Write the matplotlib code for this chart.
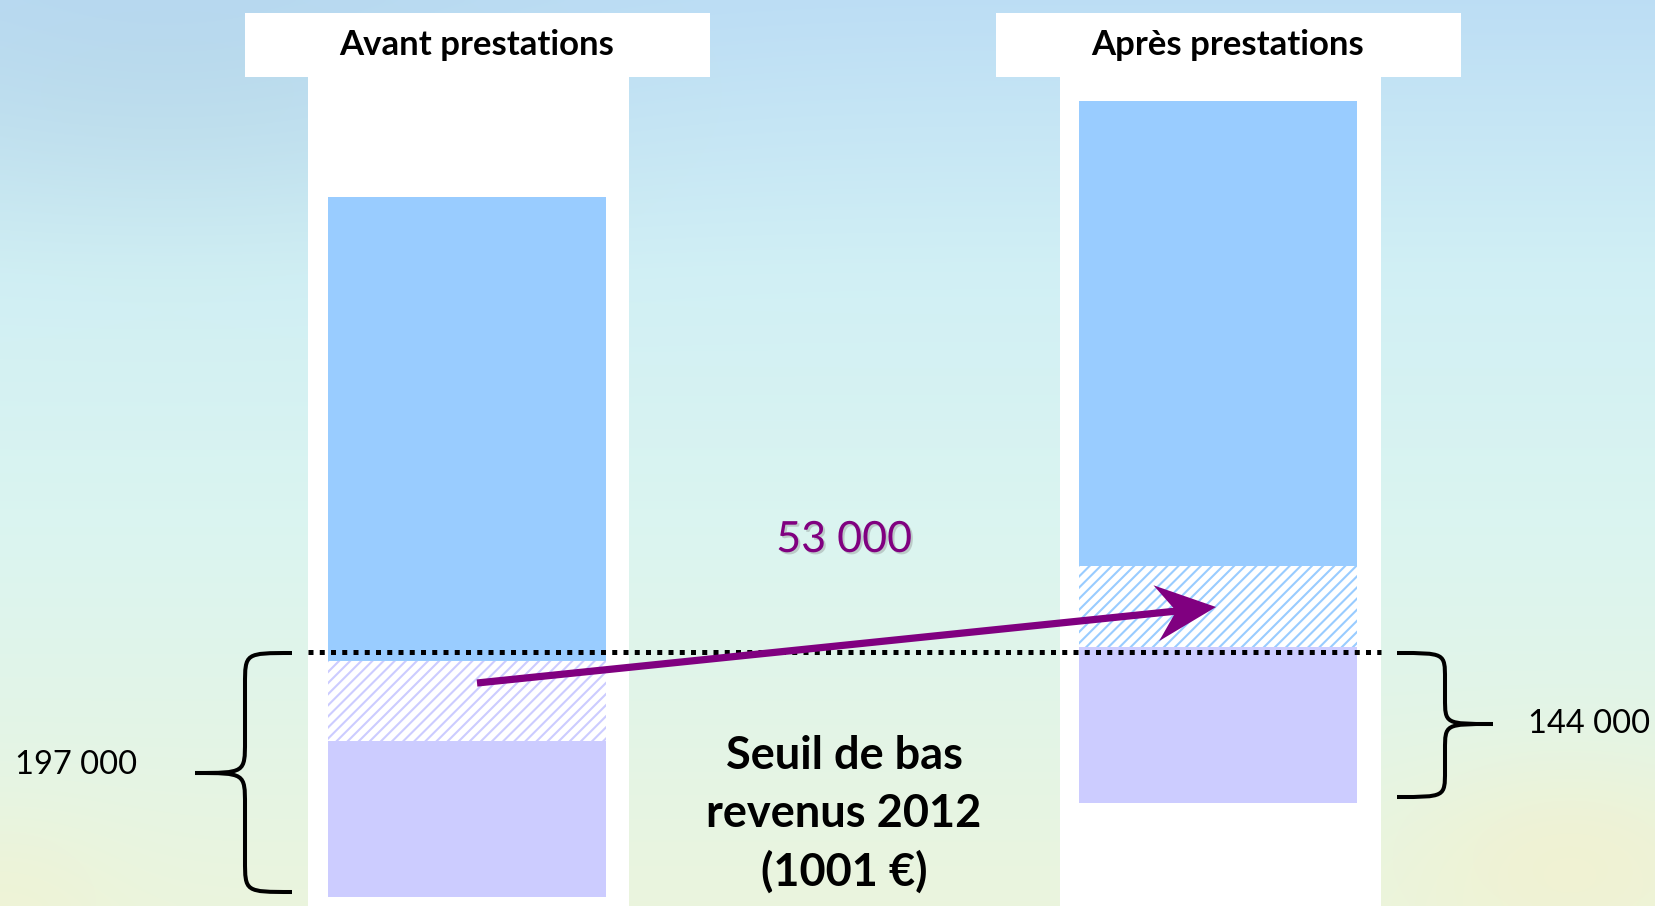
import numpy as np
import matplotlib
matplotlib.use("Agg")
import matplotlib.pyplot as plt
from matplotlib.patches import Rectangle, PathPatch, Polygon
from matplotlib.path import Path
import matplotlib.patheffects as pe

plt.rcParams['font.family'] = ['Lato', 'DejaVu Sans']
plt.rcParams['hatch.linewidth'] = 1.5

# donnees (schema : hauteurs des segments de chaque barre)
categories = ["Avant prestations", "Après prestations"]
base = np.array([9, 103])          # bas de chaque barre
lavande = np.array([156, 156])     # sous le seuil
hachure = np.array([80, 81])       # les 53 000 qui passent le seuil
bleu = np.array([464, 465])        # au-dessus du seuil
seuil_y = 254
labels_acc = ["197 000", "144 000"]
label_fleche = "53 000"
label_seuil = "Seuil de bas\nrevenus 2012\n(1001 €)"

W, H = 1655, 906
fig = plt.figure(figsize=(W / 100, H / 100), dpi=100)
ax = fig.add_axes([0, 0, 1, 1])
ax.set_xlim(0, W)
ax.set_ylim(0, H)
ax.axis('off')

# fond "ciel"
yy, xx = np.mgrid[0:1:200j, 0:1:360j]
stops = [0.0, 0.3, 0.6, 1.0]
cols = np.array([[0.74, 0.87, 0.96],
                 [0.82, 0.94, 0.96],
                 [0.86, 0.96, 0.94],
                 [0.92, 0.96, 0.87]])
bg = np.stack([np.interp(yy, stops, cols[:, k]) for k in range(3)], axis=-1)
bg -= 0.03 * np.exp(-((xx - 0.1) ** 2 / 0.05 + (yy - 0.1) ** 2 / 0.03))[..., None]
jaune = (np.exp(-((xx - 0.95) ** 2 / 0.01 + (yy - 0.95) ** 2 / 0.012))
         + 0.6 * np.exp(-((xx - 0.0) ** 2 / 0.005 + (yy - 1.0) ** 2 / 0.01)))[..., None]
jaune = np.clip(jaune, 0, 1)
bg = bg * (1 - 0.5 * jaune) + np.array([0.97, 0.94, 0.78]) * 0.5 * jaune
ax.imshow(np.clip(bg, 0, 1), extent=[0, W, 0, H], aspect='auto', zorder=0, interpolation='bicubic')

x_pos = np.array([467, 1218])
bar_w = 278
strip_l = [308, 1060]
strip_w = 321
box_l = [245, 996]
box_w = 464

for sl, bl, c in zip(strip_l, box_l, categories):
    ax.add_patch(Rectangle((sl, 0), strip_w, H - 77, color='white', lw=0, zorder=1))
    ax.add_patch(Rectangle((bl, H - 77), box_w + 1, 64, color='white', lw=0, zorder=1))
    ax.text(bl + box_w / 2, H - 45, c, ha='center', va='center', fontsize=25,
            fontweight='bold', color='black', zorder=5)

ax.bar(x_pos, lavande, width=bar_w, bottom=base, color='#CCCCFF', lw=0, zorder=2)
ax.bar(x_pos, hachure, width=bar_w, bottom=base + lavande, color='white',
       edgecolor=['#CCCCFF', '#99CCFF'], hatch='///', lw=0, zorder=2)
ax.bar(x_pos, bleu, width=bar_w, bottom=base + lavande + hachure, color='#99CCFF', lw=0, zorder=2)

# ligne du seuil
ax.plot([308, 1381], [seuil_y, seuil_y], color='black', lw=3.6,
        linestyle=(0, (1, 1.25)), dash_capstyle='butt', zorder=3)


def accolade(x_end, x_spine, x_tip, y_top, y_bot, y_mid, r):
    verts = [(x_end, y_top),
             (x_spine, y_top), (x_spine, y_top), (x_spine, y_top - r),
             (x_spine, y_mid + r),
             (x_spine, y_mid), (x_spine, y_mid), (x_tip, y_mid),
             (x_spine, y_mid), (x_spine, y_mid), (x_spine, y_mid - r),
             (x_spine, y_bot + r),
             (x_spine, y_bot), (x_spine, y_bot), (x_end, y_bot)]
    codes = [Path.MOVETO, Path.CURVE4, Path.CURVE4, Path.CURVE4, Path.LINETO,
             Path.CURVE4, Path.CURVE4, Path.CURVE4,
             Path.CURVE4, Path.CURVE4, Path.CURVE4, Path.LINETO,
             Path.CURVE4, Path.CURVE4, Path.CURVE4]
    ax.add_patch(PathPatch(Path(verts, codes), fill=False, lw=2.9, color='black',
                           capstyle='butt', zorder=4))


accolade(292, 245, 195, H - 653, H - 892, H - 773, 32)
accolade(1397, 1445, 1493, H - 653, H - 797, H - 724, 26)

ax.text(15, H - 765, labels_acc[0], ha='left', va='center', fontsize=23.5, color='black')
ax.text(1528, H - 724, labels_acc[1], ha='left', va='center', fontsize=23.5, color='black')

# fleche (pointe type "stealth")
p0 = np.array([477.0, H - 683.0])
p1 = np.array([1216.0, H - 607.0])
u = (p1 - p0) / np.hypot(*(p1 - p0))
n = np.array([-u[1], u[0]])
notch = p1 - 40 * u
ax.plot([p0[0], notch[0] + 2 * u[0]], [p0[1], notch[1] + 2 * u[1]], color='#800080',
        lw=5.2, solid_capstyle='butt', zorder=6)
head = [p1, p1 - 60 * u + 28 * n, notch, p1 - 60 * u - 28 * n]
ax.add_patch(Polygon(head, closed=True, color='#800080', lw=0, zorder=6))

ax.text(844, H - 540, label_fleche, ha='center', va='center', fontsize=31,
        color='#800080', zorder=6,
        path_effects=[pe.SimplePatchShadow(offset=(1.5, -1.5), shadow_rgbFace='gray', alpha=0.35),
                      pe.Normal()])

for ligne, yl in zip(label_seuil.split('\n'), [756, 814, 872]):
    ax.text(844, H - yl, ligne, ha='center', va='center', fontsize=32.5,
            fontweight='bold', color='black', zorder=6)

fig.savefig('out.png', dpi=100)
